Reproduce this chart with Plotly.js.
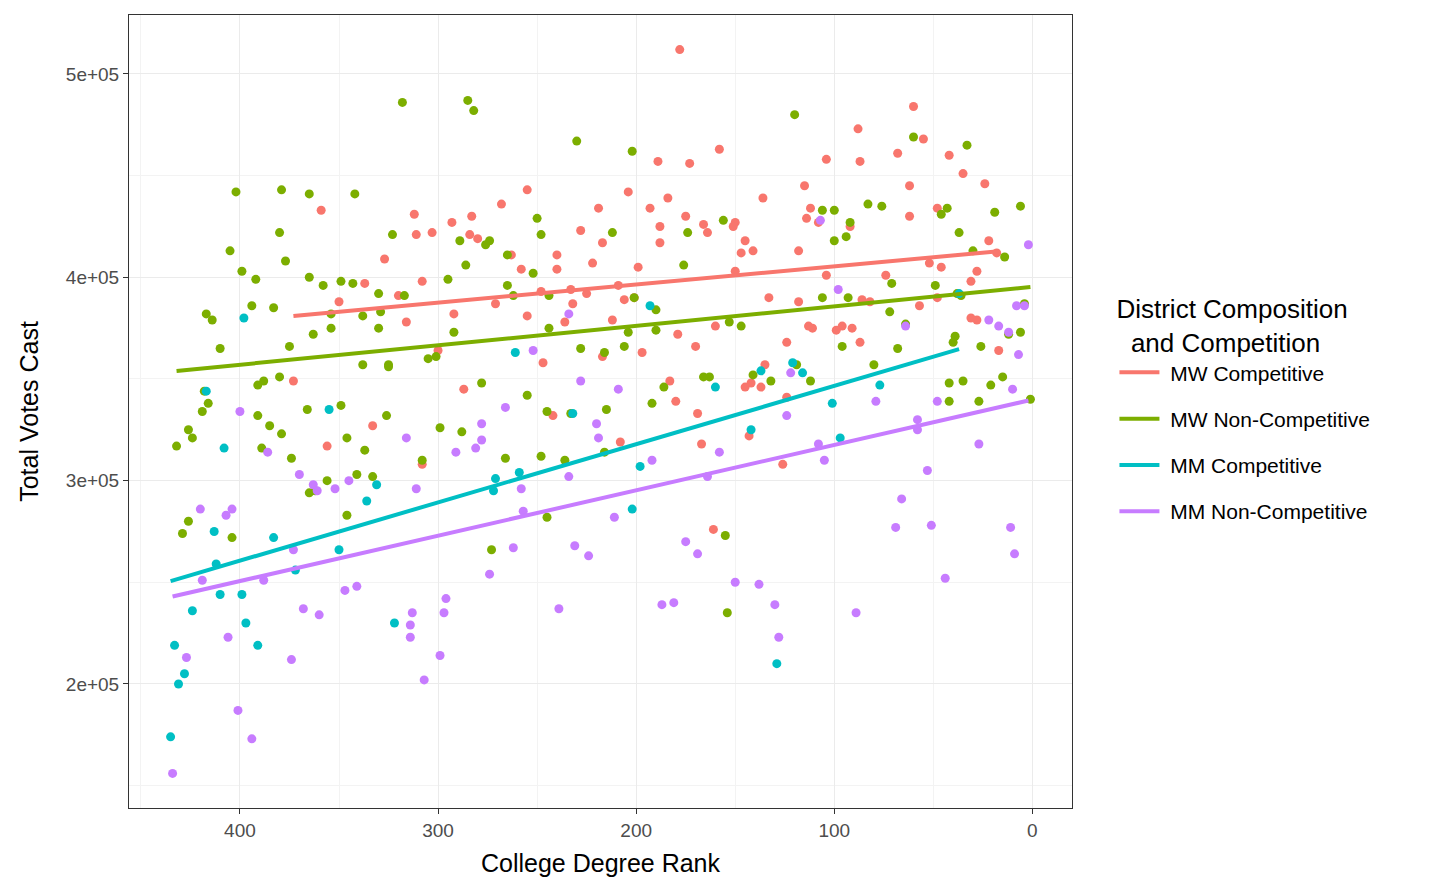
<!DOCTYPE html>
<html><head><meta charset="utf-8">
<script src="https://cdn.plot.ly/plotly-3.0.1.min.js"></script>
<style>body{margin:0;background:#fff}#c{width:1430px;height:894px}</style>
</head><body><div id="c"></div>
<script>
// [rank, votes in thousands]
const mwComp = [[178,512],[60,484],[88,473],[55,468],[158,463],[189,457],[173,456],[87,457],[68,461],[42,460],[104,458],[35,451],[24,446],[62,445],[115,445],[255,443],[204,442],[184,439],[136,439],[48,434],[219,434],[193,434],[268,436],[359,433],[312,431],[175,430],[283,430],[112,434],[114,429],[62,430],[293,427],[150,427],[166,426],[164,422],[151,425],[92,425],[108,427],[303,422],[311,421],[284,421],[280,419],[228,423],[188,425],[188,417],[145,418],[141,413],[147,412],[22,418],[118,413],[217,417],[263,411],[240,411],[222,407],[327,409],[258,404],[199,405],[240,404],[52,407],[46,405],[18,412],[150,403],[28,403],[104,401],[74,401],[308,398],[337,397],[209,396],[31,398],[233,394],[201,390],[225,392],[320,391],[206,389],[248,393],[86,389],[82,388],[133,390],[118,388],[271,387],[350,388],[232,387],[48,390],[28,379],[31,380],[316,378],[236,378],[212,379],[255,381],[292,382],[96,376],[113,376],[160,376],[91,375],[111,375],[99,374],[57,386],[179,372],[170,366],[87,368],[124,368],[197,363],[217,361],[17,364],[300,364],[373,349],[183,349],[247,358],[135,357],[142,348],[145,346],[137,346],[287,345],[169,333],[242,332],[333,327],[180,339],[124,341],[208,319],[167,318],[143,322],[356,317],[126,308],[308,308],[161,276]];
const mwNon = [[318,486],[285,487],[282,482],[120,480],[230,467],[202,462],[60,469],[33,465],[402,442],[379,443],[365,441],[342,441],[83,436],[76,435],[43,434],[6,435],[250,429],[46,431],[19,432],[106,433],[156,428],[100,433],[212,422],[92,427],[380,422],[323,421],[248,421],[37,422],[94,420],[100,418],[274,418],[289,418],[276,416],[174,422],[405,413],[265,411],[30,413],[14,410],[377,408],[286,406],[176,406],[399,403],[365,400],[252,402],[295,399],[392,399],[358,396],[349,398],[343,397],[265,396],[262,391],[244,391],[201,390],[36,391],[317,391],[330,392],[106,390],[93,390],[71,397],[49,396],[38,392],[394,386],[383,385],[329,383],[354,382],[338,381],[417,382],[414,379],[72,383],[4,387],[190,384],[354,375],[330,375],[244,375],[204,373],[190,374],[292,373],[363,372],[64,377],[147,376],[153,378],[12,372],[39,371],[6,373],[40,368],[410,365],[375,366],[301,361],[305,360],[325,357],[338,357],[325,356],[228,365],[216,363],[206,366],[68,365],[96,366],[26,366],[163,351],[166,351],[141,352],[132,349],[119,357],[112,349],[80,357],[15,351],[380,351],[278,348],[186,346],[391,347],[388,349],[418,344],[416,338],[35,349],[42,348],[21,347],[1,340],[42,339],[27,339],[192,338],[349,337],[366,335],[245,334],[215,335],[419,334],[326,332],[255,342],[233,333],[391,332],[385,327],[379,323],[424,321],[346,321],[299,326],[288,324],[426,325],[337,315],[432,317],[389,316],[216,314],[248,312],[266,311],[374,311],[236,310],[308,310],[333,302],[341,303],[356,300],[365,294],[362,295],[346,283],[245,282],[426,280],[429,274],[404,272],[273,266],[155,273],[154,235]];
const mmComp = [[433,219],[435,174],[431,200],[428,205],[424,236],[410,244],[399,244],[397,230],[391,219],[412,259],[413,275],[408,316],[417,344],[398,380],[383,272],[372,256],[350,266],[355,335],[336,290],[331,298],[322,230],[261,363],[259,304],[271,301],[272,295],[232,333],[198,307],[202,286],[193,386],[160,346],[142,325],[137,354],[121,358],[116,353],[129,210],[101,338],[97,321],[77,347],[37,392]];
const mmNon = [[434,156],[427,213],[420,286],[419,251],[406,223],[404,286],[407,283],[401,187],[394,173],[400,334],[388,251],[386,314],[374,212],[373,266],[370,303],[368,237],[363,298],[361,295],[360,234],[352,296],[347,246],[345,300],[341,248],[316,321],[314,229],[313,235],[314,223],[311,296],[307,202],[299,214],[297,235],[296,242],[291,314],[278,328],[278,320],[281,316],[266,336],[274,254],[262,267],[258,296],[257,285],[252,364],[239,237],[234,382],[234,302],[231,268],[228,349],[224,263],[220,328],[219,321],[211,282],[209,345],[192,310],[187,239],[181,240],[175,270],[169,264],[164,302],[158,314],[150,250],[138,249],[130,239],[128,223],[124,332],[122,353],[108,318],[105,310],[98,394],[107,428],[89,235],[79,339],[69,277],[66,291],[64,376],[58,330],[58,325],[53,305],[51,278],[48,339],[44,252],[27,318],[22,379],[17,376],[11,277],[9,264],[8,386],[7,362],[4,386],[2,416],[10,345],[12,373]];
const groups = ["MW Competitive","MW Non-Competitive","MM Competitive","MM Non-Competitive"];
const colors = ["#F8766D","#7CAE00","#00BFC4","#C77CFF"];
const yTicks = [200000,300000,400000,500000];
const yTickText = ["2e+05","3e+05","4e+05","5e+05"];

const sets=[mwComp,mwNon,mmComp,mmNon];
const traces=[];
sets.forEach((d,i)=>{
  const xs=d.map(p=>p[0]), ys=d.map(p=>p[1]*1000);
  traces.push({x:xs,y:ys,mode:'markers',type:'scatter',showlegend:false,
    marker:{color:colors[i],size:9},hoverinfo:'skip'});
});
sets.forEach((d,i)=>{
  const xs=d.map(p=>p[0]), ys=d.map(p=>p[1]*1000);
  const n=xs.length, mx=xs.reduce((a,b)=>a+b)/n, my=ys.reduce((a,b)=>a+b)/n;
  let sxy=0,sxx=0; for(let k=0;k<n;k++){sxy+=(xs[k]-mx)*(ys[k]-my);sxx+=(xs[k]-mx)**2;}
  const b=sxy/sxx,a=my-b*mx, x0=Math.min(...xs), x1=Math.max(...xs);
  traces.push({x:[x0,x1],y:[a+b*x0,a+b*x1],mode:'lines',type:'scatter',name:' '+groups[i],
    legendgroup:'g'+i,line:{color:colors[i],width:4}});
});
const ax={showline:true,linecolor:'#333',linewidth:1,mirror:true,gridcolor:'#EBEBEB',gridwidth:1.3,
  ticks:'outside',ticklen:5,tickcolor:'#333',tickfont:{size:19,color:'#4D4D4D'},zeroline:false};
Plotly.newPlot('c',traces,{
  width:1430,height:894,margin:{l:129,r:358,t:15,b:86},
  paper_bgcolor:'#fff',plot_bgcolor:'#fff',
  font:{family:'Liberation Sans, Arial, sans-serif'},
  xaxis:Object.assign({},ax,{range:[456,-20],tickvals:[400,300,200,100,0],
    minor:{showgrid:true,gridcolor:'#F3F3F3',tickvals:[450,350,250,150,50]},
    title:{text:'College Degree Rank',font:{size:25,color:'#000'},standoff:14}}),
  yaxis:Object.assign({},ax,{range:[139000,529000],tickvals:yTicks,ticktext:yTickText,
    minor:{showgrid:true,gridcolor:'#F3F3F3',tickvals:[150000,250000,350000,450000]},
    title:{text:'Total Votes Cast',font:{size:25,color:'#000'},standoff:20}}),
  legend:{x:1.045,y:0.66,xanchor:'left',yanchor:'top',font:{size:21,color:'#000'},
    title:{text:'District Composition<br>  and Competition',font:{size:26,color:'#000'}},
    tracegroupgap:16,itemwidth:40}
},{displayModeBar:false});
</script></body></html>
